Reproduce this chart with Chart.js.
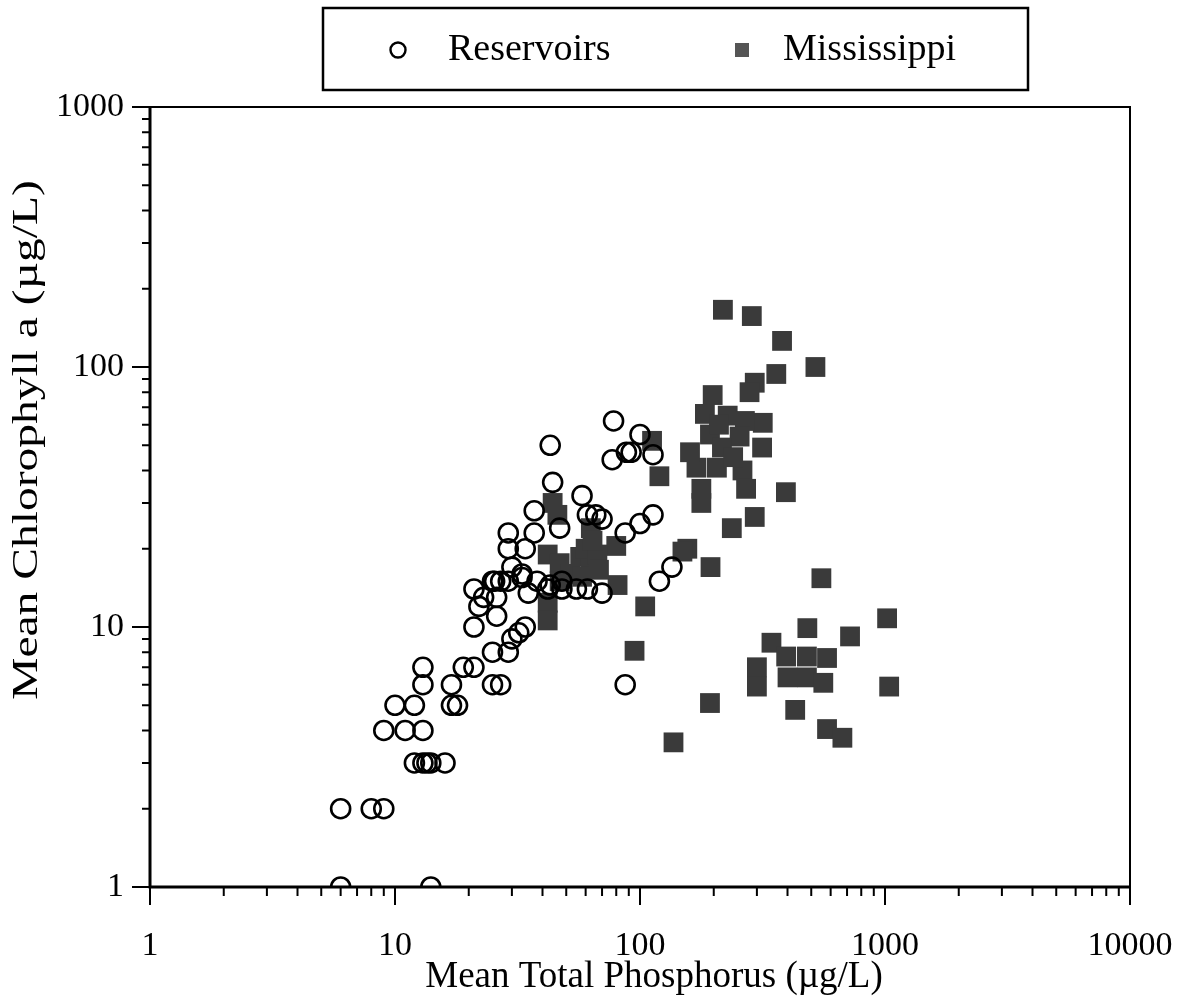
<!DOCTYPE html>
<html>
<head>
<meta charset="utf-8">
<script src="https://cdn.jsdelivr.net/npm/chart.js@4/dist/chart.umd.min.js"></script>
<style>
  html, body { margin: 0; padding: 0; background: #fff; }
  #wrap { width: 1185px; height: 1000px; position: relative; }
</style>
</head>
<body>
<div id="wrap"><canvas id="tpChart"></canvas></div>
<script>
// =========================
// Data
// =========================
const xTicks = [1, 10, 100, 1000, 10000];
const yTicks = [1, 10, 100, 1000];

const seriesNames = ['Reservoirs', 'Mississippi'];
const xTitle = 'Mean Total Phosphorus (µg/L)';
const yTitle = 'Mean Chlorophyll a (µg/L)';

// Reservoirs: [total phosphorus, chlorophyll a]
const reservoirTP = [6, 14, 6, 8, 9, 12, 13, 13.5, 14, 16, 9, 11, 13, 10, 12, 17, 18, 13, 17, 25, 27, 87,
  13, 19, 21, 25, 29, 30, 32, 21, 34, 26, 22, 21, 25, 27, 29, 33, 30, 29, 34, 29, 37, 37, 43, 44, 47,
  58, 61, 66, 70, 87, 100, 113, 120, 135, 77, 88, 92, 113, 78, 100, 25.5, 33, 38, 43, 48, 35, 42, 61,
  70, 48, 55, 23, 26];
const reservoirChl = [1, 1, 2, 2, 2, 3, 3, 3, 3, 3, 4, 4, 4, 5, 5, 5, 5, 6, 6, 6, 6, 6,
  7, 7, 7, 8, 8, 9, 9.5, 10, 10, 11, 12, 14, 15, 15, 15, 16, 17, 20, 20, 23, 23, 28, 50, 36, 24,
  32, 27, 27, 26, 23, 25, 27, 15, 17, 44, 47, 47, 46, 62, 55, 15, 15.5, 15, 14.5, 15, 13.5, 14, 14,
  13.5, 14, 14, 13, 13];

// Mississippi: [total phosphorus, chlorophyll a]
const missTP = [218, 286, 380, 520, 360, 294, 198, 280, 184, 228, 317, 268, 193, 255, 315, 216, 170, 206,
  262, 178, 178, 271, 294, 237, 394, 156, 112, 120, 149, 194, 550, 80, 81, 105, 95, 137, 193, 344,
  482, 720, 1020, 1040, 300, 300, 400, 480, 560, 395, 480, 580, 430, 580, 670, 44, 46, 63, 42, 47,
  57, 63, 52, 42, 42, 60, 67, 47, 58, 68, 64, 240, 210, 160];
const missChl = [166, 157, 126, 100, 94, 87, 78, 80, 66, 65, 61, 62, 55, 54, 49, 49, 41, 41,
  40, 34, 30, 34, 26.5, 24, 33, 20, 52, 38, 19.5, 17, 15.4, 20.5, 14.5, 12, 8.1, 3.6, 5.1, 8.7,
  9.9, 9.2, 10.8, 5.9, 7, 5.9, 6.4, 6.4, 6.1, 7.7, 7.7, 7.6, 4.8, 4.05, 3.75, 30, 27, 24, 19, 17.6,
  18.6, 17, 16, 12.4, 10.6, 20, 19, 15, 15.6, 16.6, 21.5, 45, 60, 47];

const reservoirPoints = reservoirTP.map((v, i) => ({ x: v, y: reservoirChl[i] }));
const missPoints = missTP.map((v, i) => ({ x: v, y: missChl[i] }));

const serif = "'Liberation Serif', 'Times New Roman', serif";
const squareColor = '#3a3a3a';

// =========================
// Frame, log ticks, axis titles and boxed legend
// =========================
const framePlugin = {
    id: 'frame',
    afterDraw(chart) {
        const { ctx, chartArea: a, scales: { x, y } } = chart;
        ctx.save();
        ctx.strokeStyle = '#000';

        // ticks: minor 2..9 in each decade, long at powers of ten
        ctx.lineWidth = 2;
        ctx.beginPath();
        for (let d = 0; d < xTicks.length; d++) {
            for (let m = 1; m <= 9; m++) {
                const v = xTicks[d] * m;
                if (v > xTicks[xTicks.length - 1]) break;
                const px = x.getPixelForValue(v);
                ctx.moveTo(px, a.bottom);
                ctx.lineTo(px, a.bottom + (m === 1 ? 18 : 9));
            }
        }
        for (let d = 0; d < yTicks.length; d++) {
            for (let m = 1; m <= 9; m++) {
                const v = yTicks[d] * m;
                if (v > yTicks[yTicks.length - 1]) break;
                const py = y.getPixelForValue(v);
                ctx.moveTo(a.left, py);
                ctx.lineTo(a.left - (m === 1 ? 18 : 8), py);
            }
        }
        ctx.stroke();

        // box
        ctx.lineWidth = 2;
        ctx.strokeRect(a.left, a.top, a.right - a.left, a.bottom - a.top);
        ctx.lineWidth = 3;
        ctx.beginPath();
        ctx.moveTo(a.left, a.top);
        ctx.lineTo(a.left, a.bottom);
        ctx.lineTo(a.right, a.bottom);
        ctx.stroke();

        // axis titles (the y one is stretched along its run like the original)
        ctx.fillStyle = '#000';
        ctx.textAlign = 'center';
        ctx.textBaseline = 'middle';
        ctx.font = '37px ' + serif;
        ctx.fillText(xTitle, 654, 977);

        ctx.save();
        ctx.translate(28, 440);
        ctx.rotate(-Math.PI / 2);
        ctx.scale(1.32, 1);
        ctx.font = '36px ' + serif;
        ctx.fillText(yTitle, 0, 0);
        ctx.restore();

        // legend box
        const lb = { left: 323, top: 8, right: 1028, bottom: 90 };
        const cy = (lb.top + lb.bottom) / 2 + 1;
        ctx.lineWidth = 2.5;
        ctx.strokeRect(lb.left, lb.top, lb.right - lb.left, lb.bottom - lb.top);

        ctx.lineWidth = 2.4;
        ctx.beginPath();
        ctx.arc(398, cy, 7.5, 0, Math.PI * 2);
        ctx.stroke();
        ctx.fillStyle = '#555';
        ctx.fillRect(735, cy - 7, 14, 14);

        ctx.fillStyle = '#000';
        ctx.font = '38px ' + serif;
        ctx.textAlign = 'left';
        ctx.fillText(chart.data.datasets[0].label, 448, cy);
        ctx.fillText(chart.data.datasets[1].label, 783, cy);
        ctx.restore();
    }
};

const ctx = document.getElementById('tpChart').getContext('2d');
new Chart(ctx, {
    type: 'scatter',
    data: {
        datasets: [
            {
                label: seriesNames[0],
                data: reservoirPoints,
                pointStyle: 'circle',
                pointRadius: 9.5,
                pointHoverRadius: 9.5,
                borderColor: '#000',
                borderWidth: 2.6,
                backgroundColor: 'rgba(0,0,0,0)'
            },
            {
                label: seriesNames[1],
                data: missPoints,
                pointStyle: 'rect',
                pointRadius: 14,
                pointHoverRadius: 14,
                borderWidth: 0,
                borderColor: squareColor,
                backgroundColor: squareColor
            }
        ]
    },
    options: {
        responsive: true,
        maintainAspectRatio: false,
        animation: false,
        layout: { padding: { top: 107, right: 55, bottom: 0, left: 0 } },
        plugins: { legend: { display: false }, tooltip: { enabled: false } },
        scales: {
            x: {
                type: 'logarithmic',
                min: xTicks[0],
                max: xTicks[xTicks.length - 1],
                afterBuildTicks: s => { s.ticks = xTicks.map(v => ({ value: v })); },
                afterFit: s => { s.height = 113; s.paddingLeft = 0; s.paddingRight = 0; },
                grid: { display: false, drawTicks: false },
                border: { display: false },
                ticks: {
                    color: '#000',
                    font: { family: serif, size: 34 },
                    padding: 39,
                    maxRotation: 0,
                    autoSkip: false,
                    callback: v => String(v)
                },
                title: { display: false }
            },
            y: {
                type: 'logarithmic',
                min: yTicks[0],
                max: yTicks[yTicks.length - 1],
                afterBuildTicks: s => { s.ticks = yTicks.map(v => ({ value: v })); },
                afterFit: s => { s.width = 150; },
                grid: { display: false, drawTicks: false },
                border: { display: false },
                ticks: {
                    color: '#000',
                    font: { family: serif, size: 34 },
                    padding: 26,
                    autoSkip: false,
                    callback: v => String(v)
                },
                title: { display: false }
            }
        }
    },
    plugins: [framePlugin]
});
</script>
</body>
</html>
